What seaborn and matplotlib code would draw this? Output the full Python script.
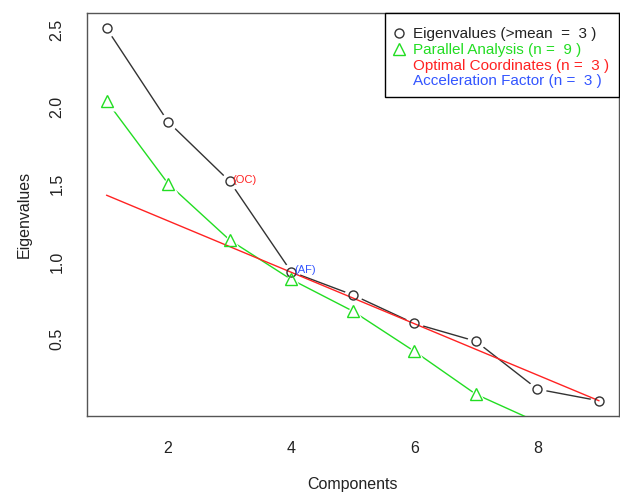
import matplotlib
matplotlib.use("Agg")
import matplotlib.pyplot as plt
from matplotlib.lines import Line2D
import numpy as np
import pandas as pd
import seaborn as sns

# values
components = [1, 2, 3, 4, 5, 6, 7, 8, 9]
eigenvalues = [2.51, 1.905, 1.52, 0.935, 0.785, 0.60, 0.485, 0.175, 0.10]
parallel = [2.04, 1.505, 1.14, 0.885, 0.68, 0.42, 0.142, -0.038, -0.22]
oc_x = [1, 9]
oc_y = [1.43, 0.10]
x_ticks = [2, 4, 6, 8]
y_ticks = [0.5, 1.0, 1.5, 2.0, 2.5]
legend_labels = [
    "Eigenvalues (>mean  =  3 )",
    "Parallel Analysis (n =  9 )",
    "Optimal Coordinates (n =  3 )",
    "Acceleration Factor (n =  3 )",
]
oc_component = 3
af_component = 4

df = pd.DataFrame({'component': components, 'eigen': eigenvalues, 'parallel': parallel})
oc_df = pd.DataFrame({'component': oc_x, 'value': oc_y})

sns.set_style("white")
plt.rcParams['font.family'] = ['Liberation Sans', 'DejaVu Sans']

fig = plt.figure(figsize=(6.2, 4.92), dpi=100)
ax = fig.add_axes([0.140, 0.154, 0.858, 0.820])

ylo, yhi = 0.0, 2.61
visible = df[df['parallel'] >= ylo]

# eigenvalue line with R "type = b" style gaps around the points
sns.lineplot(data=df, x='component', y='eigen', color='#333333', lw=1, ax=ax, zorder=2)
ax.plot(df['component'], df['eigen'], ls='', marker='o', ms=13, mfc='white', mec='none', zorder=3)

sns.lineplot(data=df, x='component', y='parallel', color='#22dd22', lw=1, ax=ax, zorder=4)
ax.plot(visible['component'], visible['parallel'], ls='', marker='^', ms=14, mfc='white', mec='none', zorder=5)

sns.lineplot(data=oc_df, x='component', y='value', color='#ff2222', lw=1, ax=ax, zorder=6)

ax.plot(df['component'], df['eigen'], ls='', marker='o', ms=6.5, mfc='none', mec='#333333', mew=1, zorder=7)
ax.plot(visible['component'], visible['parallel'], ls='', marker='^', ms=8.5, mfc='none', mec='#22dd22', mew=1, zorder=7)

oc_val = df.loc[df['component'] == oc_component, 'eigen'].iloc[0]
af_val = df.loc[df['component'] == af_component, 'eigen'].iloc[0]
ax.text(oc_component + 0.05, oc_val + 0.01, "(OC)", color='#ff2222', fontsize=8, va='center', ha='left', zorder=8)
ax.text(af_component + 0.05, af_val + 0.01, "(AF)", color='#3355ff', fontsize=8, va='center', ha='left', zorder=8)

ax.set_xlim(0.68, 9.32)
ax.set_ylim(ylo, yhi)
ax.set_xticks(x_ticks)
ax.set_yticks(y_ticks)
ax.set_yticklabels([f"{v:.1f}" for v in y_ticks], rotation=90, va='center')
ax.tick_params(direction='out', length=6, width=1, color='#555555', labelsize=11.5, labelcolor='#222222', pad=10)
ax.tick_params(axis='x', pad=12)
ax.set_xlabel("Components", fontsize=11.5, color='#222222', labelpad=15)
ax.set_ylabel("Eigenvalues", fontsize=11.5, color='#222222', labelpad=12.5)
for spine in ax.spines.values():
    spine.set_color('#555555')
    spine.set_linewidth(1)

handles = [
    Line2D([], [], ls='', marker='o', ms=6.5, mfc='none', mec='#333333'),
    Line2D([], [], ls='', marker='^', ms=8.5, mfc='none', mec='#22dd22'),
    Line2D([], [], ls='', marker=''),
    Line2D([], [], ls='', marker=''),
]
# blank tiny title only adds the extra top padding R leaves in its legend box
leg = ax.legend(handles, legend_labels, loc='upper right', borderaxespad=0, fancybox=False,
                edgecolor='black', framealpha=1, fontsize=11, handlelength=0.63,
                handletextpad=0.65, labelspacing=0.1, borderpad=0.6,
                title=' ', title_fontsize=3,
                labelcolor=['#222222', '#22dd22', '#ff2222', '#3355ff'])
leg.get_frame().set_linewidth(1)
leg.set_zorder(10)

fig.savefig("out.png", dpi=100)
